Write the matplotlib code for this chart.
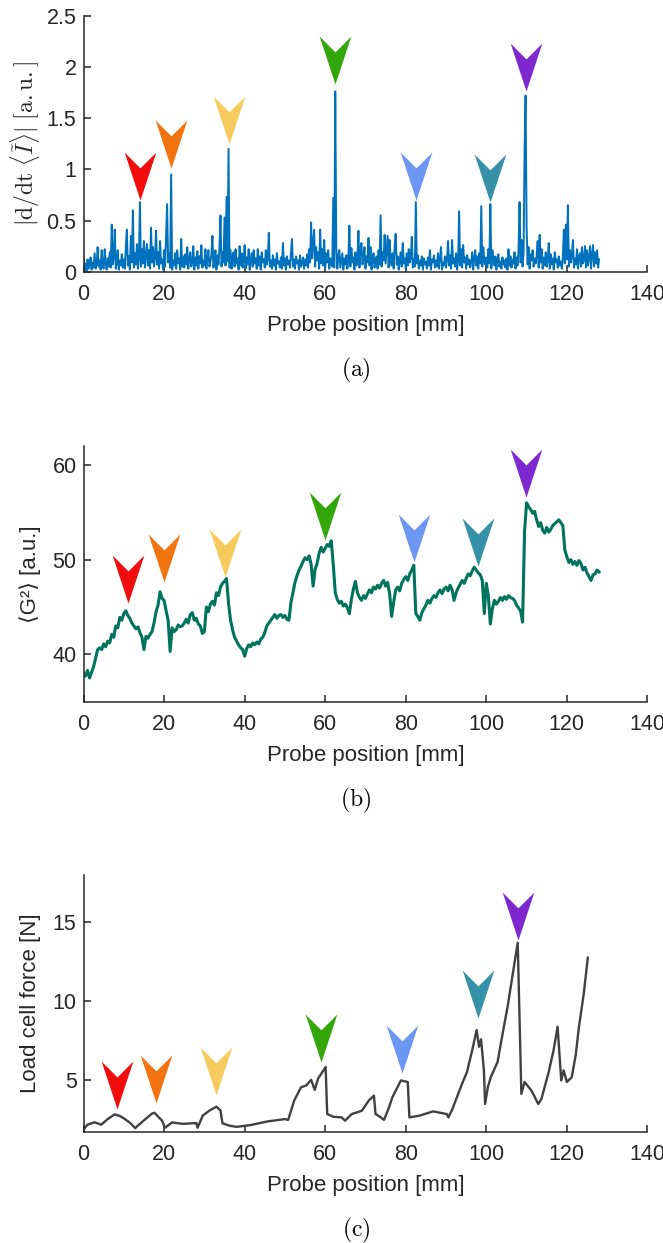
import numpy as np
import matplotlib.pyplot as plt
from matplotlib.path import Path
from matplotlib.ticker import FormatStrFormatter

plt.rcParams['font.family'] = ['Liberation Sans', 'DejaVu Sans']
plt.rcParams['mathtext.fontset'] = 'cm'

# (a) |d/dt <I>| sampled every 0.25 mm, 0 .. 128 mm
a_step = 0.25
a_vals = [
    0.15, 0.02, 0.08, 0.01, 0.12, 0.03, 0.06, 0.14, 0.02, 0.09, 0.04, 0.18, 0.03, 0.07, 0.24, 0.05, 0.11, 0.02, 0.21, 0.06,
    0.03, 0.22, 0.08, 0.02, 0.13, 0.05, 0.19, 0.04, 0.46, 0.07, 0.15, 0.41, 0.03, 0.09, 0.21, 0.02, 0.11, 0.06, 0.17, 0.04,
    0.12, 0.03, 0.24, 0.41, 0.06, 0.15, 0.02, 0.35, 0.09, 0.60, 0.04, 0.18, 0.07, 0.27, 0.03, 0.13, 0.68, 0.05, 0.22, 0.08,
    0.30, 0.04, 0.16, 0.27, 0.06, 0.21, 0.03, 0.43, 0.09, 0.24, 0.05, 0.14, 0.40, 0.07, 0.19, 0.03, 0.30, 0.08, 0.12, 0.02,
    0.21, 0.05, 0.35, 0.66, 0.09, 0.18, 0.04, 0.95, 0.02, 0.11, 0.06, 0.18, 0.03, 0.21, 0.08, 0.13, 0.02, 0.32, 0.05, 0.15,
    0.04, 0.17, 0.07, 0.24, 0.03, 0.12, 0.19, 0.05, 0.09, 0.25, 0.02, 0.14, 0.06, 0.20, 0.03, 0.15, 0.08, 0.26, 0.04, 0.11,
    0.06, 0.22, 0.03, 0.13, 0.21, 0.05, 0.09, 0.17, 0.35, 0.04, 0.12, 0.21, 0.02, 0.16, 0.07, 0.24, 0.55, 0.05, 0.19, 0.09,
    0.53, 0.06, 0.73, 0.10, 1.20, 0.04, 0.21, 0.03, 0.15, 0.19, 0.05, 0.22, 0.08, 0.13, 0.02, 0.25, 0.06, 0.18, 0.04, 0.11,
    0.26, 0.03, 0.14, 0.07, 0.22, 0.02, 0.11, 0.18, 0.05, 0.21, 0.08, 0.13, 0.03, 0.22, 0.06, 0.15, 0.02, 0.19, 0.09, 0.12,
    0.04, 0.21, 0.07, 0.13, 0.38, 0.05, 0.11, 0.03, 0.16, 0.06, 0.12, 0.02, 0.18, 0.08, 0.10, 0.04, 0.14, 0.03, 0.28, 0.06,
    0.13, 0.02, 0.15, 0.07, 0.11, 0.04, 0.19, 0.32, 0.05, 0.12, 0.03, 0.15, 0.08, 0.11, 0.02, 0.16, 0.05, 0.09, 0.14, 0.03,
    0.12, 0.06, 0.17, 0.04, 0.22, 0.09, 0.48, 0.13, 0.27, 0.41, 0.05, 0.24, 0.11, 0.19, 0.03, 0.41, 0.08, 0.22, 0.06, 0.31,
    0.04, 0.18, 0.09, 0.21, 0.03, 0.13, 0.07, 0.05, 0.72, 0.04, 1.76, 0.24, 0.03, 0.15, 0.21, 0.04, 0.11, 0.18, 0.02, 0.13,
    0.07, 0.16, 0.03, 0.12, 0.45, 0.05, 0.23, 0.09, 0.14, 0.02, 0.19, 0.06, 0.11, 0.40, 0.04, 0.21, 0.28, 0.07, 0.13, 0.24,
    0.03, 0.15, 0.09, 0.33, 0.06, 0.24, 0.02, 0.12, 0.18, 0.04, 0.10, 0.15, 0.03, 0.21, 0.07, 0.55, 0.05, 0.19, 0.11, 0.36,
    0.08, 0.22, 0.35, 0.04, 0.31, 0.12, 0.06, 0.18, 0.03, 0.25, 0.37, 0.07, 0.15, 0.02, 0.11, 0.19, 0.05, 0.28, 0.08, 0.13,
    0.03, 0.18, 0.06, 0.22, 0.09, 0.14, 0.34, 0.04, 0.12, 0.05, 0.68, 0.08, 0.16, 0.03, 0.11, 0.06, 0.15, 0.02, 0.13, 0.07,
    0.10, 0.03, 0.14, 0.06, 0.21, 0.02, 0.12, 0.09, 0.16, 0.04, 0.11, 0.05, 0.18, 0.03, 0.13, 0.24, 0.02, 0.09, 0.06, 0.15,
    0.04, 0.12, 0.30, 0.06, 0.16, 0.03, 0.31, 0.08, 0.13, 0.05, 0.18, 0.02, 0.11, 0.59, 0.06, 0.22, 0.04, 0.26, 0.09, 0.14,
    0.03, 0.16, 0.07, 0.12, 0.04, 0.09, 0.19, 0.02, 0.13, 0.21, 0.06, 0.15, 0.03, 0.18, 0.08, 0.64, 0.05, 0.24, 0.11, 0.07,
    0.14, 0.04, 0.22, 0.08, 0.66, 0.03, 0.21, 0.13, 0.06, 0.15, 0.02, 0.12, 0.17, 0.05, 0.10, 0.03, 0.14, 0.07, 0.11, 0.04,
    0.13, 0.02, 0.22, 0.06, 0.15, 0.04, 0.12, 0.08, 0.19, 0.03, 0.14, 0.06, 0.21, 0.68, 0.09, 0.31, 0.05, 0.18, 1.18, 1.72,
    0.44, 0.07, 0.24, 0.03, 0.17, 0.11, 0.21, 0.05, 0.13, 0.08, 0.16, 0.30, 0.04, 0.36, 0.09, 0.22, 0.03, 0.14, 0.06, 0.19,
    0.05, 0.11, 0.28, 0.03, 0.17, 0.07, 0.13, 0.02, 0.19, 0.09, 0.12, 0.04, 0.15, 0.06, 0.10, 0.03, 0.14, 0.41, 0.08, 0.46,
    0.12, 0.65, 0.05, 0.21, 0.09, 0.16, 0.31, 0.04, 0.13, 0.07, 0.22, 0.03, 0.15, 0.18, 0.05, 0.24, 0.08, 0.12, 0.25, 0.04,
    0.21, 0.06, 0.14, 0.25, 0.03, 0.17, 0.26, 0.05, 0.19, 0.08, 0.21, 0.04, 0.12,
]

# (b) <G^2> sampled every 0.5 mm, 0 .. 128 mm
b_step = 0.5
b_vals = [
    38.0, 37.7, 38.3, 37.5, 38.1, 38.7, 39.6, 40.5, 40.7, 40.5,
    41.1, 40.8, 41.4, 41.2, 42.1, 41.8, 43.0, 42.8, 43.9, 43.6,
    44.3, 44.6, 44.1, 43.8, 43.3, 43.0, 42.7, 42.9, 42.3, 41.8,
    40.5, 41.9, 41.7, 42.1, 42.4, 43.3, 44.5, 45.2, 46.6, 45.9,
    45.7, 44.6, 43.6, 40.3, 42.8, 42.4, 42.6, 43.1, 42.9, 43.0,
    43.3, 43.7, 43.3, 44.2, 44.4, 43.6, 43.8, 43.2, 43.0, 42.2,
    42.4, 45.0, 44.5, 45.3, 45.6, 45.2, 46.5, 46.2, 47.1, 47.5,
    47.7, 48.0, 45.4, 43.6, 42.6, 41.8, 41.4, 41.0, 40.7, 40.5,
    39.8, 40.6, 41.0, 40.8, 41.2, 41.0, 41.3, 41.1, 41.6, 41.8,
    42.3, 43.0, 43.3, 43.6, 43.9, 44.2, 43.8, 44.1, 44.2, 43.9,
    44.1, 43.7, 43.6, 45.5, 46.5, 47.6, 48.3, 48.9, 49.3, 49.8,
    50.2, 50.0, 50.4, 49.5, 47.2, 49.0, 49.6, 50.7, 51.3, 50.8,
    51.2, 51.6, 51.4, 52.0, 49.5, 46.5, 45.8, 45.4, 45.6, 45.1,
    45.3, 44.9, 44.3, 45.8, 46.9, 47.7, 46.5, 46.0, 45.7, 46.2,
    45.9, 46.4, 46.8, 46.5, 47.1, 46.9, 47.3, 47.0, 47.5, 47.8,
    47.2, 47.6, 46.4, 44.0, 45.5, 46.8, 47.1, 46.7, 47.5, 47.9,
    48.2, 47.8, 48.5, 48.9, 49.4, 44.3, 44.0, 43.6, 44.4, 44.8,
    45.2, 45.7, 45.4, 45.9, 46.2, 46.0, 46.5, 46.8, 46.4, 46.9,
    47.1, 46.7, 47.3, 46.8, 45.7, 46.5, 47.0, 47.4, 47.8, 47.5,
    48.0, 48.5, 48.3, 48.8, 49.2, 48.9, 48.6, 48.4, 47.8, 44.3,
    47.5, 46.2, 43.2, 44.8, 45.7, 45.3, 45.6, 46.0, 45.7, 46.1,
    45.8, 46.2, 46.0, 45.9, 45.7, 45.2, 44.9, 44.6, 43.4, 53.0,
    56.0, 55.6, 55.3, 54.9, 55.1, 54.2, 53.5, 53.9, 53.1, 52.8,
    53.4, 52.9, 53.2, 53.6, 53.8, 54.0, 54.2, 53.9, 53.6, 51.0,
    50.3, 49.7, 50.0, 49.5, 49.8, 49.4, 49.9, 49.6, 48.9, 49.2,
    48.6, 48.2, 47.8, 48.4, 48.5, 48.9, 48.7,
]

# (c) load cell force, read at irregular positions
c_x = [0.0, 1.0, 2.7, 4.4, 6.0, 7.7, 9.0, 10.3, 11.6, 12.8, 14.9, 17.0, 17.6, 19.5, 20.2,
       22.0, 24.6, 28.0, 28.3, 29.6, 31.3, 33.0, 34.0, 34.5, 36.3, 38.0, 41.4,
       45.6, 50.0, 50.8, 52.3, 54.0, 55.3, 56.5, 57.4, 58.2, 60.1, 60.5, 62.0,
       64.1, 64.9, 66.6, 69.1, 70.8, 72.1, 72.5, 73.6, 74.6, 75.7, 76.7, 77.8, 78.8, 80.5, 80.9,
       83.4, 86.8, 90.2, 90.6, 91.6, 92.7, 94.0, 95.2, 96.5, 97.6, 98.2, 98.7, 99.4, 99.7,
       100.4, 101.1, 102.8, 104.0, 105.3, 106.6, 107.8, 108.7, 109.5, 111.2, 112.9, 113.7, 114.6, 115.4,
       116.7, 117.7, 118.6, 119.2, 120.0, 121.2, 122.2, 123.0, 124.2, 125.2]
c_y = [1.9, 2.2, 2.35, 2.2, 2.55, 2.85, 2.75, 2.55, 2.3, 1.98, 2.45, 2.9, 2.95, 2.45, 2.0,
       2.34, 2.25, 2.3, 2.0, 2.77, 3.1, 3.34, 3.1, 2.28, 2.13, 2.06, 2.17,
       2.4, 2.55, 2.5, 3.72, 4.57, 4.68, 5.04, 4.4, 5.1, 5.85, 2.87, 2.7,
       2.66, 2.45, 2.87, 3.08, 3.72, 4.04, 2.87, 2.7, 2.5, 3.2, 3.94, 4.5, 5.0, 4.9, 2.66,
       2.77, 3.04, 2.87, 2.66, 3.2, 3.94, 4.8, 5.53, 6.91, 8.19, 7.13, 7.6, 5.64, 3.51,
       4.6, 5.2, 6.17, 7.9, 9.68, 11.8, 13.72, 4.15, 4.9, 4.36, 3.51, 3.83, 4.7, 5.43,
       6.91, 8.4, 5.0, 5.64, 4.9, 5.2, 6.6, 8.4, 10.5, 12.77]

# arrow tips per panel (red, orange, yellow, green, light blue, teal, purple)
arrow_colors = ['#F20D0D', '#F27310', '#F7CA5E', '#33A60A', '#6B96F2', '#3590A8', '#7D29CF']
a_tip_x = [14.0, 21.8, 36.0, 62.5, 82.5, 101.0, 109.8]
a_tip_y = [0.70, 1.01, 1.25, 1.83, 0.70, 0.68, 1.76]
b_tip_x = [11.0, 19.9, 35.1, 60.0, 82.0, 98.0, 109.9]
b_tip_y = [45.4, 47.6, 48.2, 52.1, 49.8, 49.3, 56.6]
c_tip_x = [8.2, 18.1, 33.0, 59.0, 79.0, 97.9, 107.8]
c_tip_y = [3.2, 3.55, 4.1, 6.17, 5.47, 8.94, 13.87]

xticks = [0, 20, 40, 60, 80, 100, 120, 140]

# chevron arrowhead, tip at the origin
arrow = Path([(0, 0), (-0.33, 1), (0, 0.67), (0.33, 1), (0, 0)],
             [Path.MOVETO, Path.LINETO, Path.LINETO, Path.LINETO, Path.CLOSEPOLY])

axis_col = '#262626'


def style(ax, ylim, yticks):
    ax.set_xlim(0, 140)
    ax.set_xticks(xticks)
    ax.set_ylim(*ylim)
    ax.set_yticks(yticks)
    ax.yaxis.set_major_formatter(FormatStrFormatter('%g'))
    for s in ['top', 'right']:
        ax.spines[s].set_visible(False)
    for s in ['left', 'bottom']:
        ax.spines[s].set_color(axis_col)
        ax.spines[s].set_linewidth(1.1)
    ax.tick_params(direction='in', length=5, width=1.1, colors=axis_col,
                   labelsize=15.5, labelcolor=axis_col)
    ax.tick_params(axis='x', pad=9)
    ax.tick_params(axis='y', pad=5)
    ax.set_xlabel('Probe position [mm]', fontsize=16, color=axis_col, labelpad=7)


def arrows(ax, tx, ty):
    for x, y, c in zip(tx, ty, arrow_colors):
        ax.plot(x, y, marker=arrow, markersize=69, color=c, markeredgewidth=0,
                linestyle='none', zorder=4)


fig = plt.figure(figsize=(6.63, 12.43), dpi=100)

ax1 = fig.add_axes([0.126, 0.7814, 0.8505, 0.206])
ax1.plot(np.arange(len(a_vals)) * a_step, a_vals, color='#0072BD', lw=1.4)
arrows(ax1, a_tip_x, a_tip_y)
style(ax1, (0, 2.5), [0, 0.5, 1, 1.5, 2, 2.5])
ax1.set_ylabel(r'$|\mathrm{d}/\mathrm{dt}\ \langle \tilde{I} \rangle|\ [\mathrm{a.u.}]$',
               fontsize=17, color=axis_col, labelpad=3)

ax2 = fig.add_axes([0.126, 0.4355, 0.8505, 0.2057])
ax2.plot(np.arange(len(b_vals)) * b_step, b_vals, color='#00735E', lw=2.2)
arrows(ax2, b_tip_x, b_tip_y)
style(ax2, (35, 62), [40, 50, 60])
ax2.set_ylabel('\u27e8G\u00b2\u27e9 [a.u.]', fontsize=16, color=axis_col, labelpad=8)

ax3 = fig.add_axes([0.126, 0.0895, 0.8505, 0.2065])
ax3.plot(c_x, c_y, color='#404040', lw=1.7)
arrows(ax3, c_tip_x, c_tip_y)
style(ax3, (1.75, 18), [5, 10, 15])
ax3.set_ylabel('Load cell force [N]', fontsize=16, color=axis_col, labelpad=8)

for lab, yp in [('a', 370), ('b', 800), ('c', 1230)]:
    fig.text(0.537, 1 - yp / 1243, r'$\mathrm{(%s)}$' % lab, ha='center', va='center',
             fontsize=17, color='black')

fig.savefig('out.png', dpi=100)
